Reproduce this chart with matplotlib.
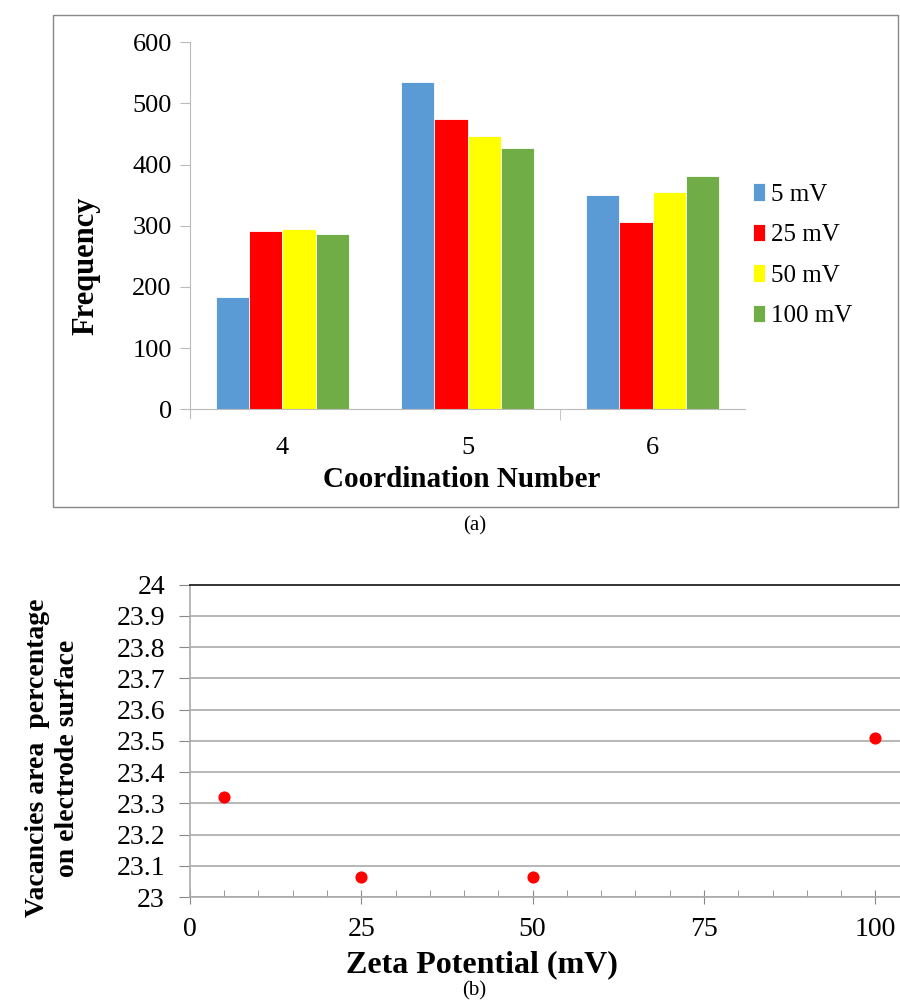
import numpy as np
import matplotlib.pyplot as plt
from matplotlib.patches import Rectangle

plt.rcParams['font.family'] = ['Liberation Serif', 'DejaVu Serif']

# data for (a)
coord_numbers = [4, 5, 6]
series_labels = ['5 mV', '25 mV', '50 mV', '100 mV']
freq_5 = [184, 535, 350]
freq_25 = [292, 475, 307]
freq_50 = [294, 447, 355]
freq_100 = [286, 427, 381]
bar_colors = ['#5b9bd5', '#ff0000', '#ffff00', '#70ad47']

# data for (b)
zeta = [5, 25, 50, 100]
vacancy_pct = [23.32, 23.065, 23.065, 23.51]

fig = plt.figure(figsize=(9, 10.08), dpi=100)

# frame around top chart
fig.patches.append(Rectangle((0.059, 0.497), 0.939, 0.488, transform=fig.transFigure,
                             fill=False, edgecolor='#888888', linewidth=1.0))

# ---- (a) bar chart
ax1 = fig.add_axes([0.211, 0.594, 0.617, 0.364])
x = np.arange(len(coord_numbers))
w = 0.18
all_freq = [freq_5, freq_25, freq_50, freq_100]
for i, (vals, lab, c) in enumerate(zip(all_freq, series_labels, bar_colors)):
    ax1.bar(x + (i - 1.5) * w, vals, w, color=c, label=lab, edgecolor='white', linewidth=0.6)
ax1.set_xlim(-0.5, 2.5)
ax1.set_ylim(0, 600)
ax1.set_yticks(range(0, 601, 100))
ax1.set_xticks(x)
ax1.set_xticklabels([str(c) for c in coord_numbers])
ax1.set_xticks([1.5], minor=True)
ax1.tick_params(axis='x', which='major', length=0, labelsize=19, pad=20)
ax1.tick_params(axis='x', which='minor', length=8, color='#bbbbbb', direction='out')
ax1.tick_params(axis='y', length=7, color='#bbbbbb', labelsize=19, pad=6)
for s in ['top', 'right']:
    ax1.spines[s].set_visible(False)
ax1.spines['left'].set_color('#bbbbbb')
ax1.spines['bottom'].set_color('#bbbbbb')
ax1.spines['left'].set_bounds(-15, 600)
ax1.set_xlabel('Coordination Number', fontsize=21, fontweight='bold')
ax1.xaxis.set_label_coords(0.49, -0.155)
ax1.set_ylabel('Frequency', fontsize=22, fontweight='bold')
ax1.yaxis.set_label_coords(-0.162, 0.39)
ax1.legend(loc='center left', bbox_to_anchor=(1.0, 0.42), frameon=False, fontsize=18,
           handlelength=0.5, handleheight=0.7, handletextpad=0.25, labelspacing=0.72,
           borderaxespad=0, borderpad=0.3)
fig.text(0.527, 0.478, '(a)', ha='center', va='center', fontsize=15)

# ---- (b) scatter
ax2 = fig.add_axes([0.211, 0.110, 0.789, 0.310])
ax2.scatter(zeta, vacancy_pct, s=60, color='#ff0000', zorder=3)
ax2.set_xlim(0, 103.6)
ax2.set_ylim(23, 24)
ax2.set_yticks(np.round(np.arange(23, 24.01, 0.1), 1))
ax2.set_yticklabels(['23', '23.1', '23.2', '23.3', '23.4', '23.5', '23.6', '23.7', '23.8', '23.9', '24'])
ax2.set_xticks([0, 25, 50, 75, 100])
ax2.set_xticks(np.arange(0, 101, 5), minor=True)
ax2.grid(axis='y', color='#aaaaaa', linewidth=1.2)
ax2.set_axisbelow(True)
ax2.tick_params(axis='x', which='major', direction='inout', length=10, color='#888888',
                labelsize=20, pad=9)
ax2.tick_params(axis='x', which='minor', direction='in', length=5, color='#888888')
ax2.tick_params(axis='y', direction='out', length=8, color='#888888', labelsize=20, pad=10)
ax2.spines['right'].set_visible(False)
ax2.spines['top'].set_color('#333333')
ax2.spines['top'].set_linewidth(1.4)
ax2.spines['left'].set_color('#aaaaaa')
ax2.spines['bottom'].set_color('#aaaaaa')
ax2.spines['left'].set_linewidth(1.2)
ax2.spines['bottom'].set_linewidth(1.2)
ax2.set_xlabel('Zeta Potential (mV)', fontsize=23, fontweight='bold')
ax2.xaxis.set_label_coords(0.411, -0.17)
ax2.set_ylabel('Vacancies area  percentage\non electrode surface', fontsize=20,
               fontweight='bold', linespacing=1.25)
ax2.yaxis.set_label_coords(-0.155, 0.445)
fig.text(0.527, 0.017, '(b)', ha='center', va='center', fontsize=15)

fig.savefig('out.png', dpi=100)
